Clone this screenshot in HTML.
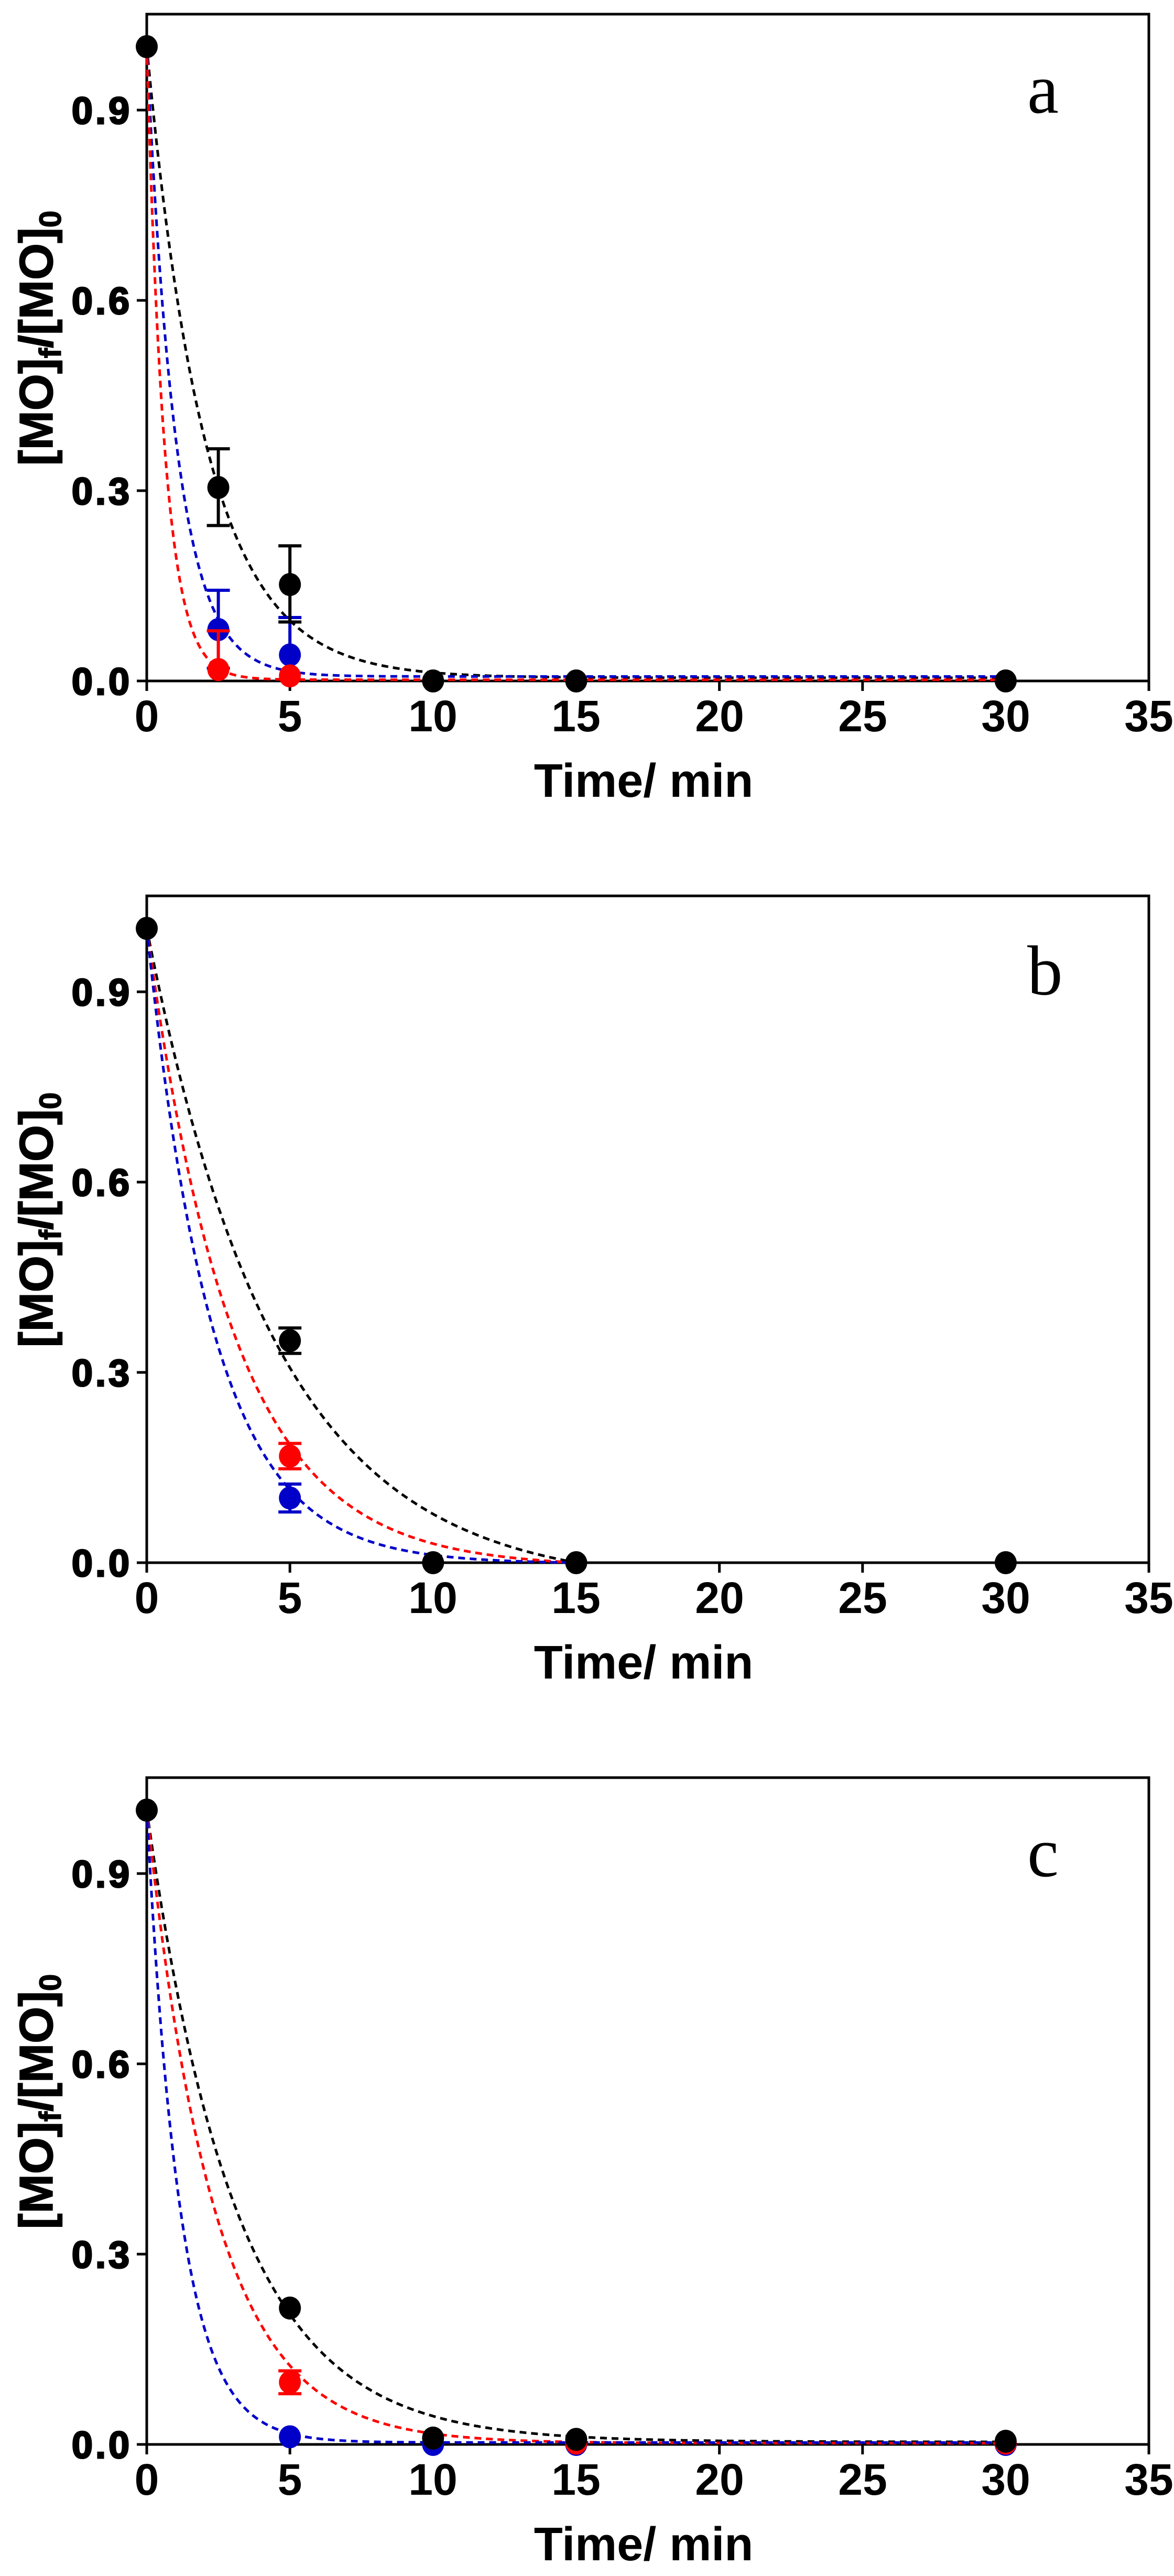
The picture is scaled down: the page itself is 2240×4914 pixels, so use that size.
<!DOCTYPE html>
<html><head><meta charset="utf-8"><style>
html,body{margin:0;padding:0;background:#fff}
svg{display:block}
text{font-family:"Liberation Sans",sans-serif;font-weight:bold;fill:#000}
.yl{stroke:#000;stroke-width:3}
.yt{stroke:#000;stroke-width:1.5}
.let{font-family:"Liberation Serif",serif;font-weight:normal}
</style></head><body>
<svg id="s" width="2240" height="4914" viewBox="0 0 2240 4914" xmlns="http://www.w3.org/2000/svg">
<g id="g0">
<text class="yl" x="252" y="1325" text-anchor="end" font-size="72" letter-spacing="5">0.0</text>
<text class="yl" x="252" y="962" text-anchor="end" font-size="72" letter-spacing="5">0.3</text>
<text class="yl" x="252" y="599" text-anchor="end" font-size="72" letter-spacing="5">0.6</text>
<text class="yl" x="252" y="236" text-anchor="end" font-size="72" letter-spacing="5">0.9</text>
<text x="280" y="1395" text-anchor="middle" font-size="84">0</text>
<text x="553" y="1395" text-anchor="middle" font-size="84">5</text>
<text x="826" y="1395" text-anchor="middle" font-size="84">10</text>
<text x="1099" y="1395" text-anchor="middle" font-size="84">15</text>
<text x="1373" y="1395" text-anchor="middle" font-size="84">20</text>
<text x="1646" y="1395" text-anchor="middle" font-size="84">25</text>
<text x="1919" y="1395" text-anchor="middle" font-size="84">30</text>
<text x="2192" y="1395" text-anchor="middle" font-size="84">35</text>
<text x="1228" y="1520" text-anchor="middle" font-size="90">Time/ min</text>
<text class="yt" transform="translate(100,645) rotate(-90)" text-anchor="middle" font-size="90">[MO]<tspan font-size="58" dy="16">f</tspan><tspan dy="-16">/[MO]</tspan><tspan font-size="58" dy="16">0</tspan></text>
<text class="let" x="1960" y="215" font-size="135">a</text>
</g>
<g id="g1" transform="translate(0,1682)">
<text class="yl" x="252" y="1325" text-anchor="end" font-size="72" letter-spacing="5">0.0</text>
<text class="yl" x="252" y="962" text-anchor="end" font-size="72" letter-spacing="5">0.3</text>
<text class="yl" x="252" y="599" text-anchor="end" font-size="72" letter-spacing="5">0.6</text>
<text class="yl" x="252" y="236" text-anchor="end" font-size="72" letter-spacing="5">0.9</text>
<text x="280" y="1395" text-anchor="middle" font-size="84">0</text>
<text x="553" y="1395" text-anchor="middle" font-size="84">5</text>
<text x="826" y="1395" text-anchor="middle" font-size="84">10</text>
<text x="1099" y="1395" text-anchor="middle" font-size="84">15</text>
<text x="1373" y="1395" text-anchor="middle" font-size="84">20</text>
<text x="1646" y="1395" text-anchor="middle" font-size="84">25</text>
<text x="1919" y="1395" text-anchor="middle" font-size="84">30</text>
<text x="2192" y="1395" text-anchor="middle" font-size="84">35</text>
<text x="1228" y="1520" text-anchor="middle" font-size="90">Time/ min</text>
<text class="yt" transform="translate(100,645) rotate(-90)" text-anchor="middle" font-size="90">[MO]<tspan font-size="58" dy="16">f</tspan><tspan dy="-16">/[MO]</tspan><tspan font-size="58" dy="16">0</tspan></text>
<text class="let" x="1960" y="215" font-size="135">b</text>
</g>
<g id="g2" transform="translate(0,3364)">
<text class="yl" x="252" y="1325" text-anchor="end" font-size="72" letter-spacing="5">0.0</text>
<text class="yl" x="252" y="962" text-anchor="end" font-size="72" letter-spacing="5">0.3</text>
<text class="yl" x="252" y="599" text-anchor="end" font-size="72" letter-spacing="5">0.6</text>
<text class="yl" x="252" y="236" text-anchor="end" font-size="72" letter-spacing="5">0.9</text>
<text x="280" y="1395" text-anchor="middle" font-size="84">0</text>
<text x="553" y="1395" text-anchor="middle" font-size="84">5</text>
<text x="826" y="1395" text-anchor="middle" font-size="84">10</text>
<text x="1099" y="1395" text-anchor="middle" font-size="84">15</text>
<text x="1373" y="1395" text-anchor="middle" font-size="84">20</text>
<text x="1646" y="1395" text-anchor="middle" font-size="84">25</text>
<text x="1919" y="1395" text-anchor="middle" font-size="84">30</text>
<text x="2192" y="1395" text-anchor="middle" font-size="84">35</text>
<text x="1228" y="1520" text-anchor="middle" font-size="90">Time/ min</text>
<text class="yt" transform="translate(100,645) rotate(-90)" text-anchor="middle" font-size="90">[MO]<tspan font-size="58" dy="16">f</tspan><tspan dy="-16">/[MO]</tspan><tspan font-size="58" dy="16">0</tspan></text>
<text class="let" x="1960" y="215" font-size="135">c</text>
</g>
</svg>
<script>
(function(){
var NS="http://www.w3.org/2000/svg";
function X(t){return 280+t*54.63;}
function Y(v){return 1299-v*1210;}
function el(g,n,a){var e=document.createElementNS(NS,n);for(var k in a)e.setAttribute(k,a[k]);g.appendChild(e);return e;}
var B="#000",R="#ff0000",U="#0000c8";
function curve(g,f,t1,col){var d="";for(var i=0;i<=600;i++){var t=t1*i/600;d+=(i?"L":"M")+X(t).toFixed(1)+" "+Y(f(t)).toFixed(1);}
el(g,"path",{d:d,fill:"none",stroke:col,"stroke-width":5,"stroke-dasharray":"13 9"});}
function ex(k,p){return function(t){return (1-p)*Math.exp(-k*t)+p;};}
function ex0(k,T){var c=Math.exp(-k*T)/(1-Math.exp(-k*T));return function(t){return (1+c)*Math.exp(-k*t)-c;};}
function pt(g,t,v,col,lo,hi){var x=X(t);
if(lo!=null){
var showLo=lo>0;if(lo<0)lo=v;
el(g,"line",{x1:x,x2:x,y1:Y(lo),y2:Y(hi),stroke:col,"stroke-width":6});
if(showLo)el(g,"line",{x1:x-22,x2:x+22,y1:Y(lo),y2:Y(lo),stroke:col,"stroke-width":6});
el(g,"line",{x1:x-22,x2:x+22,y1:Y(hi),y2:Y(hi),stroke:col,"stroke-width":6});}
el(g,"ellipse",{cx:x,cy:Y(v),rx:21,ry:22,fill:col});}
function axes(g){
el(g,"rect",{x:280,y:27,width:1912,height:1272,fill:"none",stroke:"#000","stroke-width":5});
[0,0.3,0.6,0.9].forEach(function(v){el(g,"line",{x1:261,x2:280,y1:Y(v),y2:Y(v),stroke:"#000","stroke-width":5});});
for(var t=0;t<=35;t+=5)el(g,"line",{x1:X(t),x2:X(t),y1:1299,y2:1318,stroke:"#000","stroke-width":5});}
var P=[];
for(var i=0;i<3;i++){var g=document.getElementById("g"+i);var sub=el(g,"g",{});P.push(sub);}
var g=P[0];axes(g);
curve(g,ex(0.48,0.005),30,B);curve(g,ex(0.96,0.007),30,U);curve(g,ex(1.6,0.002),30,R);
pt(g,2.5,0.081,U,0.02,0.143);pt(g,5,0.041,U,-1,0.10);
pt(g,2.5,0.018,R,-1,0.079);pt(g,5,0.008,R);
pt(g,0,1,B);pt(g,2.5,0.305,B,0.245,0.366);pt(g,5,0.152,B,0.093,0.213);pt(g,10,0,B);pt(g,15,0,B);pt(g,30,0,B);
g=P[1];axes(g);
curve(g,ex0(0.22,15),15,B);curve(g,ex0(0.33,15),15,R);curve(g,ex0(0.43,15),15,U);
pt(g,5,0.102,U,0.08,0.124);pt(g,5,0.168,R,0.148,0.188);
pt(g,0,1,B);pt(g,5,0.35,B,0.33,0.37);pt(g,10,0,B);pt(g,15,0,B);pt(g,30,0,B);
g=P[2];axes(g);
curve(g,ex(0.32,0.004),30,B);curve(g,ex(0.42,0.002),30,R);curve(g,ex(0.85,0.003),30,U);
pt(g,5,0.012,U);pt(g,10,0.0,U);pt(g,15,0.0,U);pt(g,30,0.0,U);
pt(g,5,0.098,R,0.08,0.116);pt(g,15,0.002,R);pt(g,30,0.002,R);
pt(g,0,1,B);pt(g,5,0.215,B);pt(g,10,0.01,B);pt(g,15,0.008,B);pt(g,30,0.005,B);
})();
</script>
</body></html>
